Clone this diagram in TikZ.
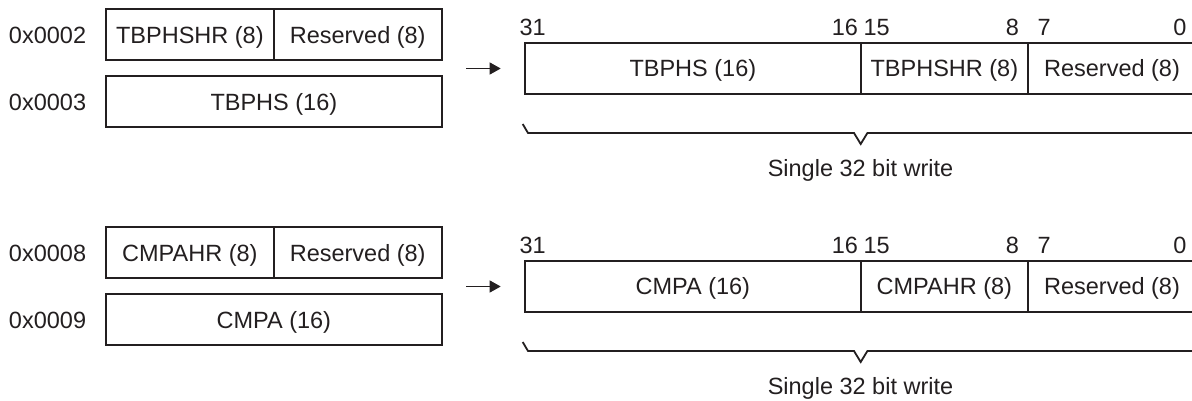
\documentclass[tikz,border=0pt]{standalone}
\usepackage{fontspec}
\setmainfont{Liberation Sans}
\usetikzlibrary{arrows.meta}
\definecolor{ink}{RGB}{35,31,32}
\begin{document}
\begin{tikzpicture}[x=1pt,y=-1pt,
  every node/.style={font=\fontsize{23.5}{28}\selectfont, text=ink, inner sep=0pt, outer sep=0pt},
  cell/.style={draw=ink, line width=2pt, minimum height=51pt, text height=16.8pt, text depth=0pt},
  lbl/.style={anchor=base},
  lblw/.style={anchor=base west},
  lble/.style={anchor=base east},
  arrowline/.style={draw=ink, line width=1.2pt, -{Triangle[length=11pt,width=12pt]}},
  bracket/.style={draw=ink, line width=1.8pt, line join=miter}]
\useasboundingbox (0,0) rectangle (1192,400);
\fill[white] (0,0) rectangle (1192,400);
\clip (0,0) rectangle (1192,400);

% ---------- upper group ----------
\node[lblw] (addrA) at (9,43.2) {0x0002};
\node[lblw] (addrB) at (9,110.2) {0x0003};
\node[cell, minimum width=167.7pt] (a1) at (189.85,34.8) {TBPHSHR (8)};
\node[cell, minimum width=168pt] (a2) at (357.7,34.8) {Reserved (8)};
\node[cell, minimum width=335.7pt] (a3) at (273.85,101.8) {TBPHS (16)};
\coordinate (as) at (466,68.5);
\coordinate (ae) at (500.7,68.5);
\draw[arrowline] (as) -- (ae);
\node[cell, minimum width=335.7pt] (r1) at (692.85,68.3) {TBPHS (16)};
\node[cell, minimum width=167.3pt] (r2) at (944.35,68.3) {TBPHSHR (8)};
\node[cell, minimum width=168pt] (r3) at (1112,68.3) {Reserved (8)};
\node[lblw] (b31) at (519.5,35.3) {31};
\node[lble] (b16) at (858,35.3) {16};
\node[lblw] (b15) at (863.5,35.3) {15};
\node[lble] (b8) at (1019,35.3) {8};
\node[lblw] (b7) at (1037.5,35.3) {7};
\node[lble] (b0) at (1186.5,35.3) {0};
\coordinate (k1) at (522.7,124);
\coordinate (k2) at (528,133);
\coordinate (k3) at (854,133);
\coordinate (k4) at (860.7,144);
\coordinate (k5) at (867.4,133);
\coordinate (k6) at (1193.4,133);
\coordinate (k7) at (1198.7,124);
\draw[bracket] (k1) -- (k2) -- (k3) -- (k4) -- (k5) -- (k6) -- (k7);
\node[lbl] (w1) at (860.5,176.7) {Single 32 bit write};

% ---------- lower group ----------
\node[lblw] (addrC) at (9,261.2) {0x0008};
\node[lblw] (addrD) at (9,328.2) {0x0009};
\node[cell, minimum width=167.7pt] (c1) at (189.85,252.8) {CMPAHR (8)};
\node[cell, minimum width=168pt] (c2) at (357.7,252.8) {Reserved (8)};
\node[cell, minimum width=335.7pt] (c3) at (273.85,319.8) {CMPA (16)};
\coordinate (cs) at (466,286.5);
\coordinate (ce) at (500.7,286.5);
\draw[arrowline] (cs) -- (ce);
\node[cell, minimum width=335.7pt] (s1) at (692.85,286.3) {CMPA (16)};
\node[cell, minimum width=167.3pt] (s2) at (944.35,286.3) {CMPAHR (8)};
\node[cell, minimum width=168pt] (s3) at (1112,286.3) {Reserved (8)};
\node[lblw] (d31) at (519.5,253.3) {31};
\node[lble] (d16) at (858,253.3) {16};
\node[lblw] (d15) at (863.5,253.3) {15};
\node[lble] (d8) at (1019,253.3) {8};
\node[lblw] (d7) at (1037.5,253.3) {7};
\node[lble] (d0) at (1186.5,253.3) {0};
\coordinate (m1) at (522.7,342);
\coordinate (m2) at (528,351);
\coordinate (m3) at (854,351);
\coordinate (m4) at (860.7,362);
\coordinate (m5) at (867.4,351);
\coordinate (m6) at (1193.4,351);
\coordinate (m7) at (1198.7,342);
\draw[bracket] (m1) -- (m2) -- (m3) -- (m4) -- (m5) -- (m6) -- (m7);
\node[lbl] (w2) at (860.5,394.7) {Single 32 bit write};
\end{tikzpicture}
\end{document}
